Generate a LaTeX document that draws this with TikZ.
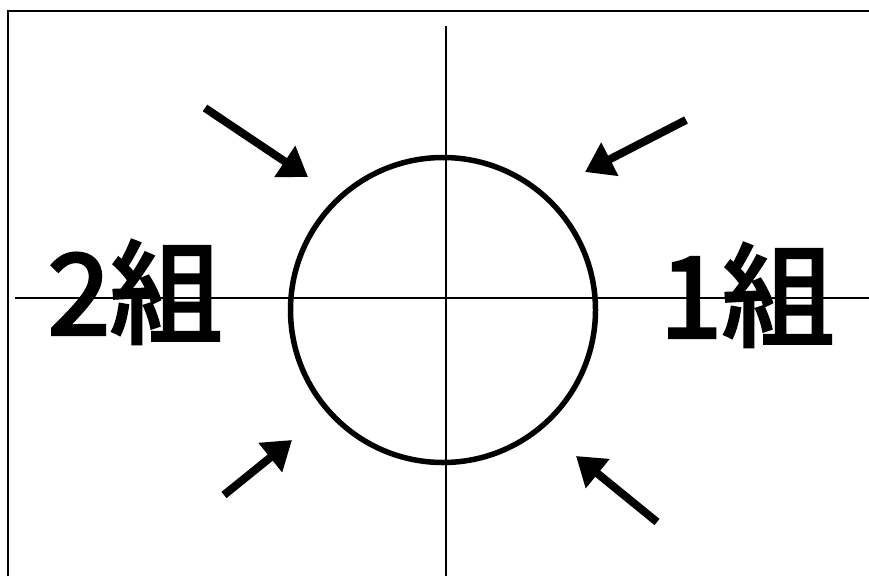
\documentclass[tikz,border=0pt]{standalone}
\usepackage{fontspec}
\newfontfamily\cjk[FakeBold=3]{Noto Sans CJK JP}
\usetikzlibrary{arrows.meta}
\tikzset{
  thin line/.style={line width=1.4pt, black},
  ring/.style={line width=5.5pt, black},
  push/.style={line width=8pt, -{Triangle[length=28pt,width=36pt]}},
  grouplabel/.style={font=\cjk\fontsize{112}{112}\selectfont, inner sep=0pt}
}
\begin{document}
\begin{tikzpicture}[x=1pt,y=-1pt]
\useasboundingbox (0,0) rectangle (869,576);
% frame
\draw[thin line] (8,576) -- (8,11) -- (869,11);
% axes
\coordinate (vt) at (446,26);
\coordinate (vb) at (446,576);
\coordinate (hl) at (15,298);
\coordinate (hr) at (869,298);
\draw[thin line] (vt) -- (vb);
\draw[thin line] (hl) -- (hr);
% circle
\node[circle, draw, ring, minimum size=305pt, inner sep=0pt] (disk) at (443,310) {};
% labels
\node[grouplabel] (g2) at (135,292) {2組};
\node[grouplabel] (g1) at (747,295) {1組};
% arrows
\coordinate (a1s) at (205,108); \coordinate (a1e) at (308,177);
\coordinate (a2s) at (686,120); \coordinate (a2e) at (585,172);
\coordinate (a3s) at (224,495); \coordinate (a3e) at (292,440);
\coordinate (a4s) at (657,522); \coordinate (a4e) at (576,456);
\draw[push] (a1s) -- (a1e);
\draw[push] (a2s) -- (a2e);
\draw[push] (a3s) -- (a3e);
\draw[push] (a4s) -- (a4e);
\end{tikzpicture}
\end{document}
